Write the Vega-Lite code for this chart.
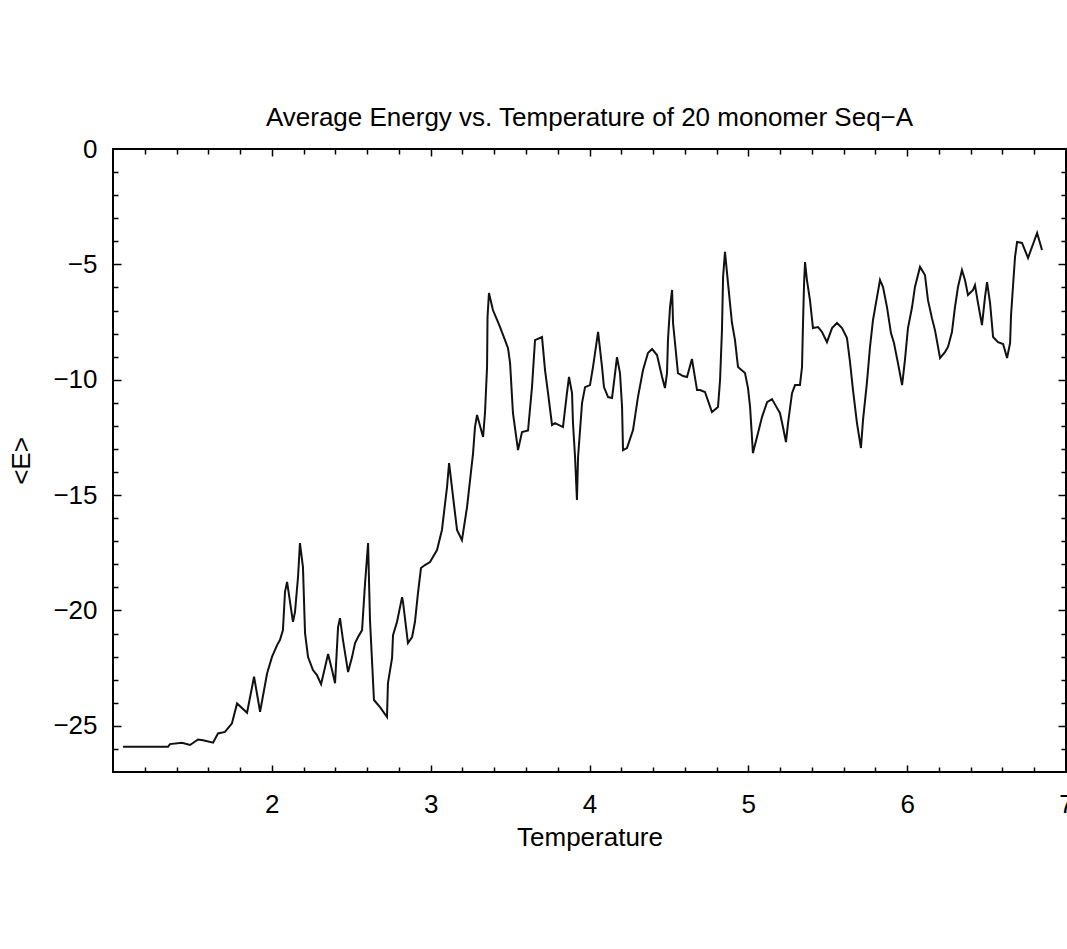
{
  "$schema": "https://vega.github.io/schema/vega-lite/v6.json",
  "width": 953,
  "height": 623,
  "autosize": {"type": "none"},
  "padding": {"left": 113, "top": 149, "right": 1, "bottom": 177},
  "background": "white",
  "title": {"text": "Average Energy vs. Temperature of 20 monomer Seq−A", "font": "Liberation Sans", "fontSize": 26, "fontWeight": "normal", "color": "black", "anchor": "middle", "offset": 5},
  "datasets": {
    "d": [
      {"T":1.063,"E":-25.91},{"T":1.139,"E":-25.91},{"T":1.233,"E":-25.91},{"T":1.346,"E":-25.91},{"T":1.359,"E":-25.79},{"T":1.434,"E":-25.73},{"T":1.485,"E":-25.83},{"T":1.535,"E":-25.59},{"T":1.567,"E":-25.62},{"T":1.630,"E":-25.73},{"T":1.661,"E":-25.33},{"T":1.705,"E":-25.26},{"T":1.749,"E":-24.89},{"T":1.781,"E":-24.03},{"T":1.844,"E":-24.43},{"T":1.888,"E":-22.87},{"T":1.926,"E":-24.39},{"T":1.970,"E":-22.73},{"T":2.001,"E":-22.01},{"T":2.033,"E":-21.50},{"T":2.051,"E":-21.28},{"T":2.070,"E":-20.85},{"T":2.083,"E":-19.19},{"T":2.096,"E":-18.76},{"T":2.133,"E":-20.49},{"T":2.146,"E":-20.06},{"T":2.165,"E":-18.54},{"T":2.177,"E":-17.08},{"T":2.196,"E":-18.12},{"T":2.209,"E":-20.98},{"T":2.228,"E":-22.02},{"T":2.259,"E":-22.58},{"T":2.284,"E":-22.80},{"T":2.310,"E":-23.19},{"T":2.328,"E":-22.67},{"T":2.354,"E":-21.89},{"T":2.379,"E":-22.58},{"T":2.398,"E":-23.15},{"T":2.417,"E":-20.72},{"T":2.429,"E":-20.33},{"T":2.448,"E":-21.28},{"T":2.480,"E":-22.67},{"T":2.505,"E":-22.02},{"T":2.524,"E":-21.41},{"T":2.543,"E":-21.15},{"T":2.568,"E":-20.85},{"T":2.587,"E":-18.81},{"T":2.606,"E":-17.08},{"T":2.618,"E":-20.42},{"T":2.643,"E":-23.88},{"T":2.681,"E":-24.19},{"T":2.725,"E":-24.62},{"T":2.731,"E":-23.15},{"T":2.757,"E":-22.06},{"T":2.763,"E":-21.07},{"T":2.788,"E":-20.50},{"T":2.820,"E":-19.42},{"T":2.826,"E":-19.64},{"T":2.857,"E":-21.41},{"T":2.883,"E":-21.15},{"T":2.901,"E":-20.50},{"T":2.920,"E":-19.25},{"T":2.939,"E":-18.16},{"T":2.964,"E":-18.03},{"T":2.996,"E":-17.90},{"T":3.040,"E":-17.38},{"T":3.071,"E":-16.51},{"T":3.103,"E":-14.65},{"T":3.116,"E":-13.61},{"T":3.141,"E":-15.08},{"T":3.166,"E":-16.51},{"T":3.197,"E":-16.95},{"T":3.229,"E":-15.52},{"T":3.248,"E":-14.35},{"T":3.267,"E":-13.18},{"T":3.279,"E":-12.05},{"T":3.292,"E":-11.53},{"T":3.330,"E":-12.48},{"T":3.342,"E":-11.44},{"T":3.355,"E":-9.45},{"T":3.358,"E":-7.28},{"T":3.367,"E":-6.24},{"T":3.392,"E":-6.98},{"T":3.437,"E":-7.72},{"T":3.468,"E":-8.28},{"T":3.487,"E":-8.63},{"T":3.500,"E":-9.28},{"T":3.518,"E":-11.44},{"T":3.550,"E":-13.05},{"T":3.575,"E":-12.27},{"T":3.613,"E":-12.2},{"T":3.638,"E":-10.32},{"T":3.657,"E":-8.28},{"T":3.701,"E":-8.15},{"T":3.720,"E":-9.58},{"T":3.739,"E":-10.58},{"T":3.764,"E":-11.96},{"T":3.783,"E":-11.88},{"T":3.833,"E":-12.05},{"T":3.858,"E":-10.58},{"T":3.871,"E":-9.88},{"T":3.890,"E":-10.58},{"T":3.896,"E":-11.88},{"T":3.909,"E":-13.35},{"T":3.921,"E":-15.21},{"T":3.928,"E":-13.35},{"T":3.953,"E":-11.01},{"T":3.972,"E":-10.32},{"T":4.003,"E":-10.23},{"T":4.022,"E":-9.45},{"T":4.054,"E":-7.93},{"T":4.079,"E":-9.45},{"T":4.091,"E":-10.32},{"T":4.117,"E":-10.75},{"T":4.142,"E":-10.79},{"T":4.161,"E":-9.71},{"T":4.173,"E":-9.02},{"T":4.192,"E":-9.71},{"T":4.205,"E":-11.18},{"T":4.211,"E":-13.05},{"T":4.236,"E":-12.96},{"T":4.274,"E":-12.18},{"T":4.305,"E":-10.75},{"T":4.337,"E":-9.58},{"T":4.368,"E":-8.84},{"T":4.394,"E":-8.67},{"T":4.425,"E":-8.93},{"T":4.457,"E":-9.88},{"T":4.475,"E":-10.36},{"T":4.488,"E":-9.71},{"T":4.494,"E":-8.28},{"T":4.507,"E":-6.85},{"T":4.520,"E":-6.11},{"T":4.526,"E":-7.54},{"T":4.557,"E":-9.71},{"T":4.589,"E":-9.84},{"T":4.614,"E":-9.88},{"T":4.645,"E":-9.10},{"T":4.677,"E":-10.45},{"T":4.696,"E":-10.45},{"T":4.727,"E":-10.53},{"T":4.771,"E":-11.40},{"T":4.809,"E":-11.18},{"T":4.822,"E":-10.01},{"T":4.834,"E":-7.85},{"T":4.841,"E":-5.55},{"T":4.853,"E":-4.46},{"T":4.872,"E":-5.81},{"T":4.897,"E":-7.54},{"T":4.916,"E":-8.28},{"T":4.935,"E":-9.45},{"T":4.979,"E":-9.71},{"T":4.998,"E":-10.36},{"T":5.011,"E":-11.18},{"T":5.029,"E":-13.18},{"T":5.061,"E":-12.31},{"T":5.086,"E":-11.62},{"T":5.118,"E":-10.97},{"T":5.149,"E":-10.84},{"T":5.181,"E":-11.23},{"T":5.199,"E":-11.44},{"T":5.218,"E":-12.05},{"T":5.237,"E":-12.70},{"T":5.250,"E":-11.88},{"T":5.275,"E":-10.58},{"T":5.294,"E":-10.23},{"T":5.325,"E":-10.23},{"T":5.338,"E":-9.45},{"T":5.344,"E":-7.63},{"T":5.351,"E":-5.81},{"T":5.357,"E":-4.90},{"T":5.369,"E":-5.68},{"T":5.388,"E":-6.55},{"T":5.407,"E":-7.76},{"T":5.439,"E":-7.72},{"T":5.464,"E":-7.93},{"T":5.495,"E":-8.37},{"T":5.527,"E":-7.76},{"T":5.558,"E":-7.54},{"T":5.590,"E":-7.76},{"T":5.621,"E":-8.19},{"T":5.640,"E":-9.23},{"T":5.659,"E":-10.45},{"T":5.684,"E":-11.88},{"T":5.709,"E":-12.96},{"T":5.722,"E":-11.75},{"T":5.747,"E":-10.10},{"T":5.766,"E":-8.58},{"T":5.785,"E":-7.41},{"T":5.810,"E":-6.42},{"T":5.829,"E":-5.68},{"T":5.848,"E":-5.98},{"T":5.873,"E":-6.85},{"T":5.898,"E":-7.98},{"T":5.917,"E":-8.41},{"T":5.942,"E":-9.28},{"T":5.968,"E":-10.23},{"T":5.986,"E":-9.15},{"T":6.005,"E":-7.76},{"T":6.031,"E":-6.85},{"T":6.049,"E":-5.98},{"T":6.081,"E":-5.11},{"T":6.112,"E":-5.46},{"T":6.131,"E":-6.55},{"T":6.156,"E":-7.33},{"T":6.175,"E":-7.85},{"T":6.207,"E":-9.06},{"T":6.238,"E":-8.80},{"T":6.257,"E":-8.58},{"T":6.282,"E":-7.93},{"T":6.301,"E":-6.85},{"T":6.320,"E":-5.98},{"T":6.345,"E":-5.25},{"T":6.364,"E":-5.68},{"T":6.383,"E":-6.33},{"T":6.415,"E":-6.11},{"T":6.427,"E":-5.90},{"T":6.446,"E":-6.68},{"T":6.471,"E":-7.63},{"T":6.490,"E":-6.42},{"T":6.503,"E":-5.77},{"T":6.522,"E":-6.68},{"T":6.541,"E":-8.15},{"T":6.572,"E":-8.37},{"T":6.604,"E":-8.45},{"T":6.629,"E":-9.06},{"T":6.648,"E":-8.41},{"T":6.654,"E":-7.20},{"T":6.666,"E":-5.98},{"T":6.679,"E":-4.68},{"T":6.692,"E":-4.03},{"T":6.723,"E":-4.07},{"T":6.761,"E":-4.72},{"T":6.818,"E":-3.64},{"T":6.849,"E":-4.38}
    ]
  },
  "data": {"name": "d"},
  "config": {
    "view": {"stroke": "black", "strokeWidth": 2},
    "axis": {"grid": false, "domain": false, "labelFont": "Liberation Sans", "labelFontSize": 26, "labelColor": "black", "titleFont": "Liberation Sans", "titleFontSize": 26, "titleFontWeight": "normal", "titleColor": "black", "tickColor": "black", "tickWidth": 1.5, "labelFlush": false, "labelOverlap": false, "labelBound": false}
  },
  "resolve": {"axis": {"x": "independent", "y": "independent"}},
  "layer": [
    {
      "mark": {"type": "line", "color": "#111111", "strokeWidth": 2},
      "encoding": {
        "x": {"field": "T", "type": "quantitative", "scale": {"domain": [1, 7], "nice": false, "zero": false},
              "axis": {"orient": "bottom", "values": [2, 3, 4, 5, 6, 7], "ticks": false, "labelPadding": 19, "title": "Temperature", "titlePadding": 7}},
        "y": {"field": "E", "type": "quantitative", "scale": {"domain": [-27, 0], "nice": false, "zero": false},
              "axis": {"orient": "left", "values": [0, -5, -10, -15, -20, -25], "ticks": false, "labelPadding": 16, "title": "<E>", "titlePadding": 18}}
      }
    },
    {
      "mark": {"type": "line", "strokeOpacity": 0},
      "encoding": {
        "x": {"field": "T", "type": "quantitative", "scale": {"domain": [1, 7], "nice": false, "zero": false},
              "axis": {"orient": "bottom", "values": [2, 3, 4, 5, 6, 7], "labels": false, "tickSize": -7, "title": null}},
        "y": {"field": "E", "type": "quantitative", "scale": {"domain": [-27, 0], "nice": false, "zero": false},
              "axis": {"orient": "left", "values": [-5, -10, -15, -20, -25], "labels": false, "tickSize": -8, "title": null}}
      }
    },
    {
      "mark": {"type": "line", "strokeOpacity": 0},
      "encoding": {
        "x": {"field": "T", "type": "quantitative", "scale": {"domain": [1, 7], "nice": false, "zero": false},
              "axis": {"orient": "top", "values": [2, 3, 4, 5, 6, 7], "labels": false, "tickSize": -7, "title": null}},
        "y": {"field": "E", "type": "quantitative", "scale": {"domain": [-27, 0], "nice": false, "zero": false},
              "axis": {"orient": "right", "values": [-5, -10, -15, -20, -25], "labels": false, "tickSize": -8, "title": null}}
      }
    },
    {
      "mark": {"type": "line", "strokeOpacity": 0},
      "encoding": {
        "x": {"field": "T", "type": "quantitative", "scale": {"domain": [1, 7], "nice": false, "zero": false},
              "axis": {"orient": "bottom", "values": [1.2, 1.4, 1.6, 1.8, 2.2, 2.4, 2.6, 2.8, 3.2, 3.4, 3.6, 3.8, 4.2, 4.4, 4.6, 4.8, 5.2, 5.4, 5.6, 5.8, 6.2, 6.4, 6.6, 6.8], "labels": false, "tickSize": -5, "title": null}},
        "y": {"field": "E", "type": "quantitative", "scale": {"domain": [-27, 0], "nice": false, "zero": false},
              "axis": {"orient": "left", "values": [-1, -2, -3, -4, -6, -7, -8, -9, -11, -12, -13, -14, -16, -17, -18, -19, -21, -22, -23, -24, -26], "labels": false, "tickSize": -5, "title": null}}
      }
    },
    {
      "mark": {"type": "line", "strokeOpacity": 0},
      "encoding": {
        "x": {"field": "T", "type": "quantitative", "scale": {"domain": [1, 7], "nice": false, "zero": false},
              "axis": {"orient": "top", "values": [1.2, 1.4, 1.6, 1.8, 2.2, 2.4, 2.6, 2.8, 3.2, 3.4, 3.6, 3.8, 4.2, 4.4, 4.6, 4.8, 5.2, 5.4, 5.6, 5.8, 6.2, 6.4, 6.6, 6.8], "labels": false, "tickSize": -5, "title": null}},
        "y": {"field": "E", "type": "quantitative", "scale": {"domain": [-27, 0], "nice": false, "zero": false},
              "axis": {"orient": "right", "values": [-1, -2, -3, -4, -6, -7, -8, -9, -11, -12, -13, -14, -16, -17, -18, -19, -21, -22, -23, -24, -26], "labels": false, "tickSize": -5, "title": null}}
      }
    }
  ]
}
